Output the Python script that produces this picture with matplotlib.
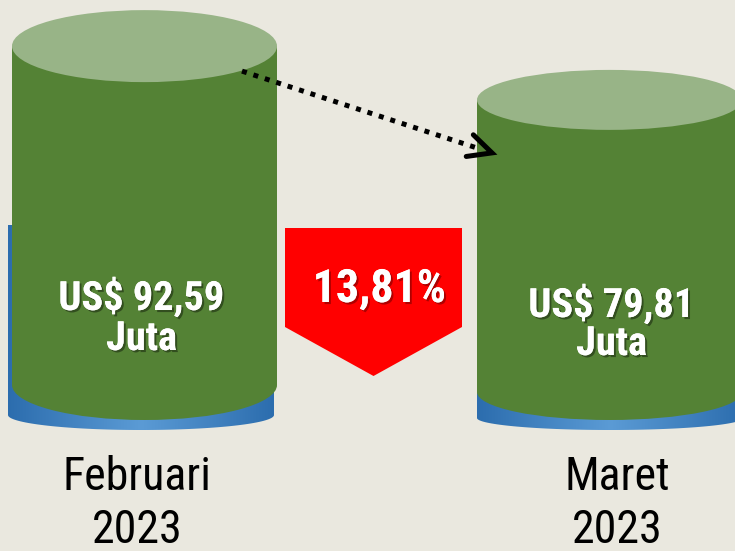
import numpy as np
import matplotlib.pyplot as plt
from matplotlib import font_manager, patheffects
from matplotlib.patches import Ellipse, Rectangle, Polygon
from matplotlib.colors import LinearSegmentedColormap

# data
months = ['Februari', 'Maret']
years = ['2023', '2023']
values = [92.59, 79.81]          # US$ juta
value_labels = ['US$ 92,59', 'US$ 79,81']
unit_label = 'Juta'
change_label = '13,81%'

# layout in pixels (y grows downwards)
W, H = 735, 551
px_per_unit = 3.66
cyl_left = [12, 477]
cyl_width = 265
cyl_bottom = [385, 392]
top_h = [72, 60]
bot_h = [70, 56]
base_left = [8, 477]
base_width = 266
base_top = [225, 300]
base_mid = [415, 418]
base_h = [30, 24]
label_y = [310, 317]
unit_y = [350, 355]
label_dx = [-3, 2]
month_x = [137, 617]

BG = '#EAE8DF'
GREEN = '#548235'
GREEN_TOP = '#98B487'
RED = '#FF0000'

names = {f.name for f in font_manager.fontManager.ttflist}
FONT = 'Liberation Sans'
for cand in ['Arial Narrow', 'Liberation Sans Narrow', 'Roboto Condensed', 'Archivo Narrow', 'PT Sans Narrow']:
    if cand in names:
        FONT = cand
        break

fig = plt.figure(figsize=(W / 100, H / 100), dpi=100)
fig.patch.set_facecolor(BG)
ax = fig.add_axes([0, 0, 1, 1])
ax.set_facecolor(BG)

cmap = LinearSegmentedColormap.from_list('base', ['#2C6DAE', '#5B9BD5', '#2C6DAE'])
shadow = [patheffects.withSimplePatchShadow(offset=(1.5, -1.5), shadow_rgbFace='black', alpha=0.4),
          patheffects.Normal()]

tops = []
for i, v in enumerate(values):
    x0 = cyl_left[i]
    cx = x0 + cyl_width / 2
    ybot = cyl_bottom[i]
    ytop = ybot - v * px_per_unit
    tops.append(ytop)

    # blue base with horizontal gradient
    bx0 = base_left[i]
    bx1 = bx0 + base_width
    bcx = (bx0 + bx1) / 2
    t = np.linspace(0, np.pi, 80)
    arc = np.column_stack([bcx + base_width / 2 * np.cos(t), base_mid[i] + base_h[i] / 2 * np.sin(t)])
    pts = np.vstack([[bx0, base_top[i]], [bx1, base_top[i]], arc])
    clip = Polygon(pts, closed=True, facecolor='none', edgecolor='none', zorder=1)
    ax.add_patch(clip)
    im = ax.imshow(np.linspace(0, 1, 256)[None, :], cmap=cmap, aspect='auto',
                   extent=(bx0, bx1, base_mid[i] + base_h[i] / 2, base_top[i]), zorder=1)
    im.set_clip_path(clip)

    # green cylinder
    ax.add_patch(Rectangle((x0, ytop), cyl_width, ybot - ytop, facecolor=GREEN, edgecolor='none', zorder=2))
    ax.add_patch(Ellipse((cx, ybot), cyl_width, bot_h[i], facecolor=GREEN, edgecolor='none', zorder=2))
    ax.add_patch(Ellipse((cx, ytop), cyl_width, top_h[i], facecolor=GREEN_TOP, edgecolor='none', zorder=3))

    tx = cx + label_dx[i]
    ax.text(tx, label_y[i], value_labels[i], color='white', fontsize=29, fontweight='bold',
            family=FONT, ha='center', va='baseline', zorder=6, path_effects=shadow)
    ax.text(tx, unit_y[i], unit_label, color='white', fontsize=29, fontweight='bold',
            family=FONT, ha='center', va='baseline', zorder=6, path_effects=shadow)

    ax.text(month_x[i], 490, months[i], color='black', fontsize=33, family=FONT,
            ha='center', va='baseline')
    ax.text(month_x[i], 543, years[i], color='black', fontsize=33, family=FONT,
            ha='center', va='baseline')

# red down arrow with percentage change
bx0, bx1, btop, bshoulder, btip = 285, 462, 228, 327, 376
ax.add_patch(Polygon([(bx0, btop), (bx1, btop), (bx1, bshoulder), ((bx0 + bx1) / 2, btip), (bx0, bshoulder)],
                     closed=True, facecolor=RED, edgecolor='none', zorder=2))
red_shadow = [patheffects.withSimplePatchShadow(offset=(1.5, -1.5), shadow_rgbFace='#7a0000', alpha=0.6),
              patheffects.Normal()]
ax.text((bx0 + bx1) / 2 + 6, 302, change_label, color='white', fontsize=33, fontweight='bold',
        family=FONT, ha='center', va='baseline', zorder=6, path_effects=red_shadow)

# dotted arrow from top of February to top of March
start = np.array([cyl_left[0] + cyl_width - 35, tops[0] + 25])
tip = np.array([cyl_left[1] + 15, tops[1] + 53])
d = (tip - start) / np.linalg.norm(tip - start)
end = tip - 14 * d
ax.plot([start[0], end[0]], [start[1], end[1]], color='black', lw=3.6,
        linestyle=(0, (1.0, 1.4)), dash_capstyle='butt', zorder=5)
ang = np.deg2rad(26)
arms = []
for s in (1, -1):
    c, sn = np.cos(s * ang), np.sin(s * ang)
    r = np.array([d[0] * c - d[1] * sn, d[0] * sn + d[1] * c])
    arms.append(tip - 26 * r)
ax.plot([arms[0][0], tip[0], arms[1][0]], [arms[0][1], tip[1], arms[1][1]], color='black', lw=3.6,
        solid_capstyle='round', solid_joinstyle='miter', zorder=5)

ax.set_xlim(0, W)
ax.set_ylim(H, 0)
ax.axis('off')

fig.savefig('out.png', dpi=100, facecolor=BG)
